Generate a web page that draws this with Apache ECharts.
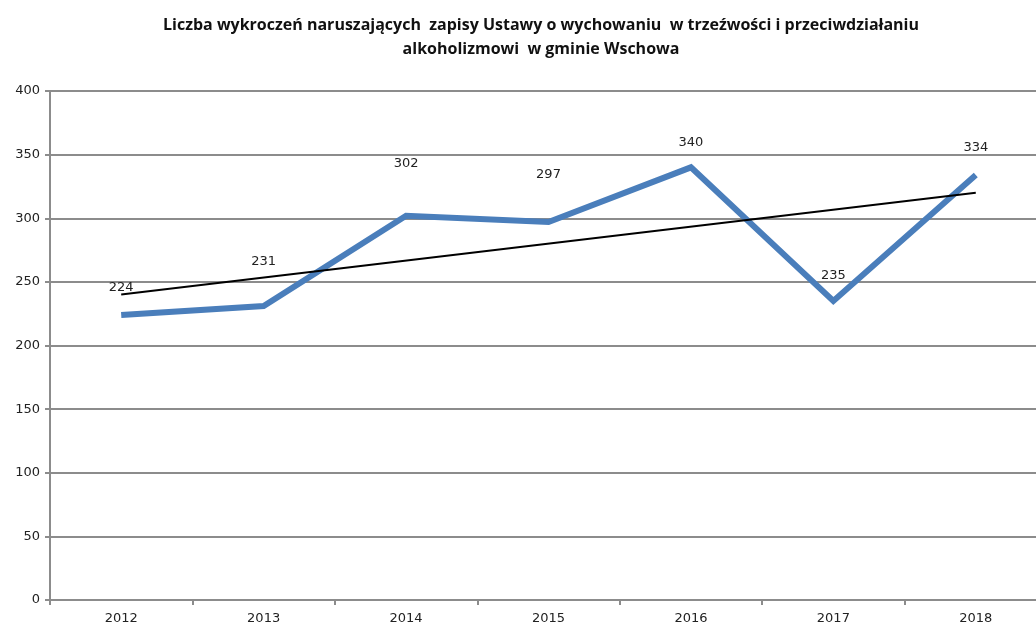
<!DOCTYPE html>
<html>
<head>
<meta charset="utf-8">
<script src="https://cdn.jsdelivr.net/npm/echarts@6/dist/echarts.min.js"></script>
<style>
  html, body { margin: 0; padding: 0; background: #fff; }
  #chart { width: 1036px; height: 628px; }
</style>
</head>
<body>
<div id="chart"></div>
<script>
// data
var years = ["2012", "2013", "2014", "2015", "2016", "2017", "2018"];
var offences = [224, 231, 302, 297, 340, 235, 334];
// trend line ends, read at 2012 and 2018
var trend = [240, null, null, null, null, null, 320];
var yTicks = { min: 0, max: 400, step: 50 };

// how far above the point each label sits (px), as in the original
var labelGap = [20, 37, 45, 40, 18, 18, 20];

var chart = echarts.init(document.getElementById("chart"));

var option = {
  animation: false,
  title: {
    text: "Liczba wykroczeń naruszających  zapisy Ustawy o wychowaniu  w trzeźwości i przeciwdziałaniu\nalkoholizmowi  w gminie Wschowa",
    left: 536,
    textAlign: "center",
    top: 8,
    textStyle: {
      fontFamily: "Open Sans",
      fontWeight: "bold",
      fontSize: 16,
      lineHeight: 24,
      color: "#111"
    }
  },
  grid: {
    left: 50,
    width: 997,
    top: 91,
    bottom: 28,
    outerBoundsMode: "none",
    containLabel: false
  },
  xAxis: {
    type: "category",
    data: years,
    boundaryGap: true,
    axisLine: { lineStyle: { color: "#8c8c8c", width: 2 } },
    axisTick: { show: true, length: 5, lineStyle: { color: "#8c8c8c", width: 2 } },
    axisLabel: {
      color: "#222",
      fontFamily: "DejaVu Sans",
      fontSize: 13,
      margin: 12
    }
  },
  yAxis: {
    type: "value",
    min: yTicks.min,
    max: yTicks.max,
    interval: yTicks.step,
    axisLine: { show: true, lineStyle: { color: "#8c8c8c", width: 2 } },
    axisTick: { show: true, length: 5, lineStyle: { color: "#8c8c8c", width: 2 } },
    splitLine: { lineStyle: { color: "#8c8c8c", width: 2 } },
    axisLabel: {
      color: "#222",
      fontFamily: "DejaVu Sans",
      fontSize: 13,
      margin: 10
    }
  },
  series: [
    {
      name: "wykroczenia",
      type: "line",
      data: offences.map(function (v, i) {
        return { value: v, label: { show: true, distance: labelGap[i] } };
      }),
      symbol: "circle",
      symbolSize: 1,
      showSymbol: true,
      lineStyle: { color: "#4a7ebb", width: 6, join: "miter" },
      itemStyle: { color: "rgba(0,0,0,0)" },
      label: {
        show: true,
        position: "top",
        color: "#222",
        fontFamily: "DejaVu Sans",
        fontSize: 13
      },
      z: 3
    },
    {
      name: "trend",
      type: "line",
      data: trend,
      connectNulls: true,
      symbol: "none",
      lineStyle: { color: "#000", width: 2 },
      z: 4
    }
  ]
};

chart.setOption(option);
</script>
</body>
</html>
